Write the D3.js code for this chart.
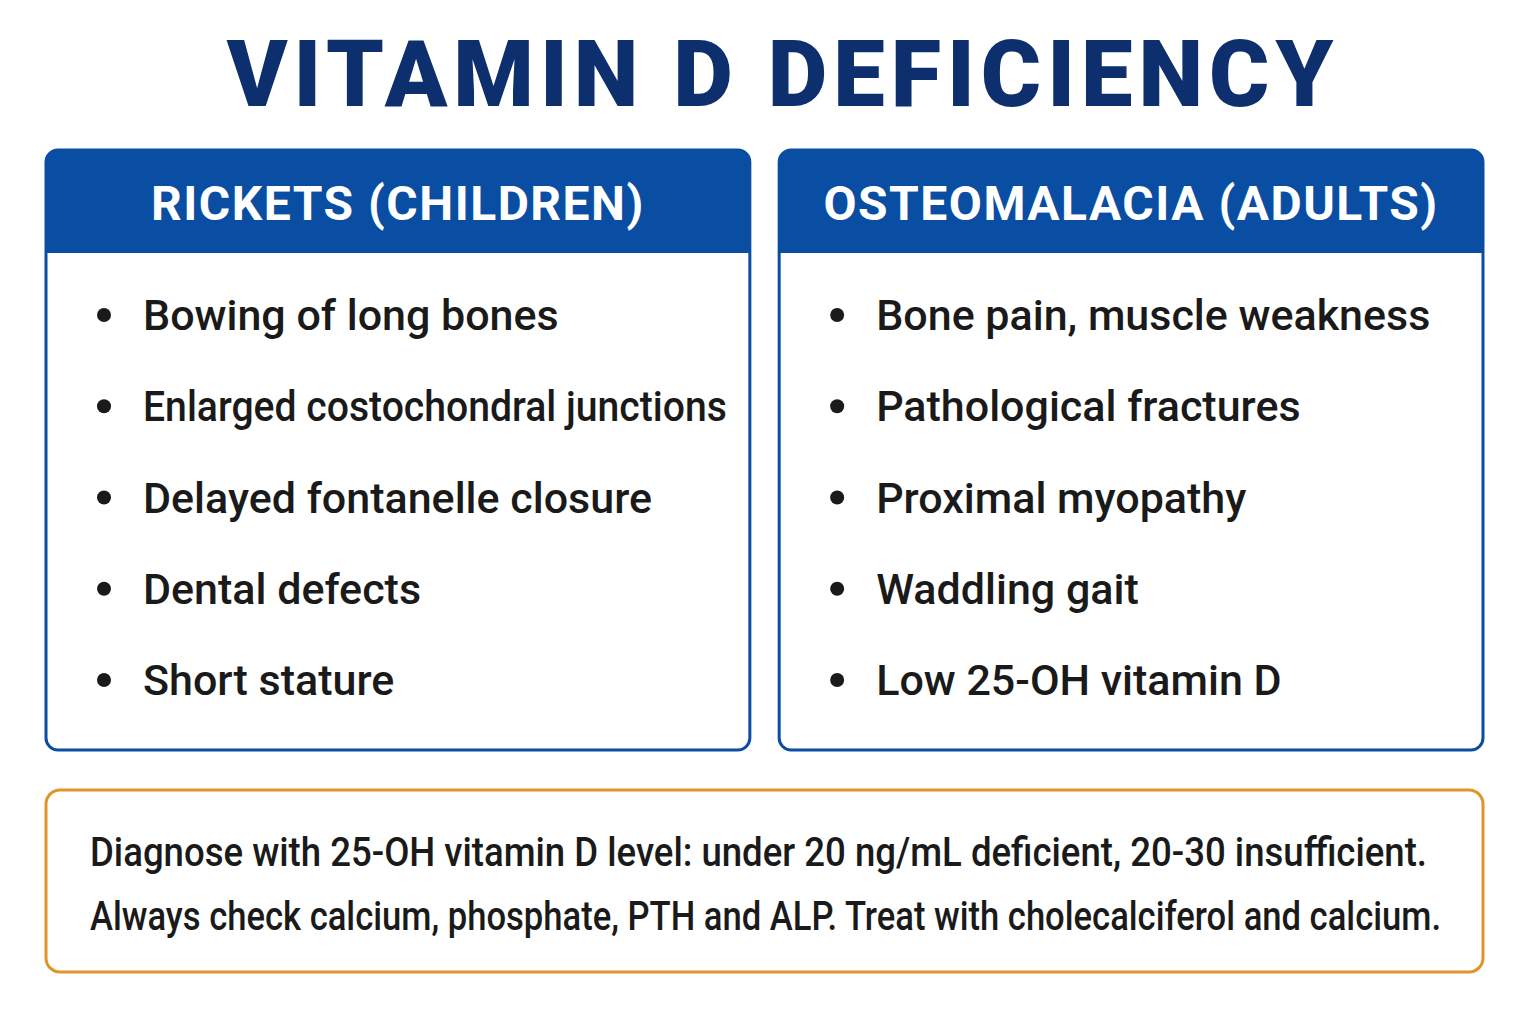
<html>
<head>
<script src="https://d3js.org/d3.v7.min.js"></script>
<style>
  body { margin: 0; background: #fff; }
  text { font-family: Roboto, "Noto Sans", sans-serif; }
</style>
</head>
<body>
<svg id="chart"></svg>
<script>
var title = "VITAMIN D DEFICIENCY";
var panelTitles = ["RICKETS (CHILDREN)", "OSTEOMALACIA (ADULTS)"];
var ricketsItems = ["Bowing of long bones", "Enlarged costochondral junctions", "Delayed fontanelle closure", "Dental defects", "Short stature"];
var osteoItems = ["Bone pain, muscle weakness", "Pathological fractures", "Proximal myopathy", "Waddling gait", "Low 25-OH vitamin D"];
var noteLines = [
  "Diagnose with 25-OH vitamin D level: under 20 ng/mL deficient, 20-30 insufficient.",
  "Always check calcium, phosphate, PTH and ALP. Treat with cholecalciferol and calcium."
];

var width = 1536, height = 1024;
var svg = d3.select("#chart").attr("width", width).attr("height", height);

svg.append("text")
    .attr("x", 783).attr("y", 106)
    .attr("text-anchor", "middle")
    .attr("font-size", 92).attr("font-weight", 900)
    .attr("letter-spacing", 6)
    .attr("fill", "#0e2f6e")
    .text(title);

var panelX = d3.scaleBand().domain([0, 1]).range([46, 1483]).paddingInner(0.04);
var rowY = d3.scaleLinear().domain([0, 4]).range([315, 680]);

var panels = [ricketsItems, osteoItems];
panels.forEach(function(items, i) {
  var x0 = panelX(i), w = panelX.bandwidth();
  var g = svg.append("g").attr("transform", "translate(" + x0 + ",150)");
  g.append("rect").attr("width", w).attr("height", 600).attr("rx", 12)
      .attr("fill", "#fff").attr("stroke", "#0a4ea3").attr("stroke-width", 3);
  g.append("path")
      .attr("d", "M0,103 V12 Q0,0 12,0 H" + (w - 12) + " Q" + w + ",0 " + w + ",12 V103 Z")
      .attr("fill", "#0a4ea3");
  g.append("text").attr("x", w / 2).attr("y", 70)
      .attr("text-anchor", "middle").attr("font-size", 48).attr("font-weight", 700)
      .attr("fill", "#fff").attr("letter-spacing", 1.5)
      .text(panelTitles[i]);
  items.forEach(function(t, j) {
    var y = rowY(j) - 150;
    g.append("circle").attr("cx", 58).attr("cy", y).attr("r", 7).attr("fill", "#1a1a1a");
    var tx = g.append("text").attr("x", 97).attr("y", y + 15)
        .attr("font-size", 43).attr("font-weight", 500).attr("fill", "#1a1a1a")
        .text(t);
    var maxW = w - 120;
    if (tx.node().getComputedTextLength() > maxW)
      tx.attr("textLength", maxW).attr("lengthAdjust", "spacingAndGlyphs");
  });
});

var note = svg.append("g").attr("transform", "translate(46,790)");
note.append("rect").attr("width", 1437).attr("height", 182).attr("rx", 14)
    .attr("fill", "#fff").attr("stroke", "#e0952b").attr("stroke-width", 3);
var noteWidths = [1337, 1351];
noteLines.forEach(function(t, k) {
  var tx = note.append("text").attr("x", 44).attr("y", 76 + k * 64)
      .attr("font-size", 40).attr("font-weight", 500).attr("fill", "#1a1a1a")
      .text(t);
  if (tx.node().getComputedTextLength() > noteWidths[k])
    tx.attr("textLength", noteWidths[k]).attr("lengthAdjust", "spacingAndGlyphs");
});
</script>
</body>
</html>
